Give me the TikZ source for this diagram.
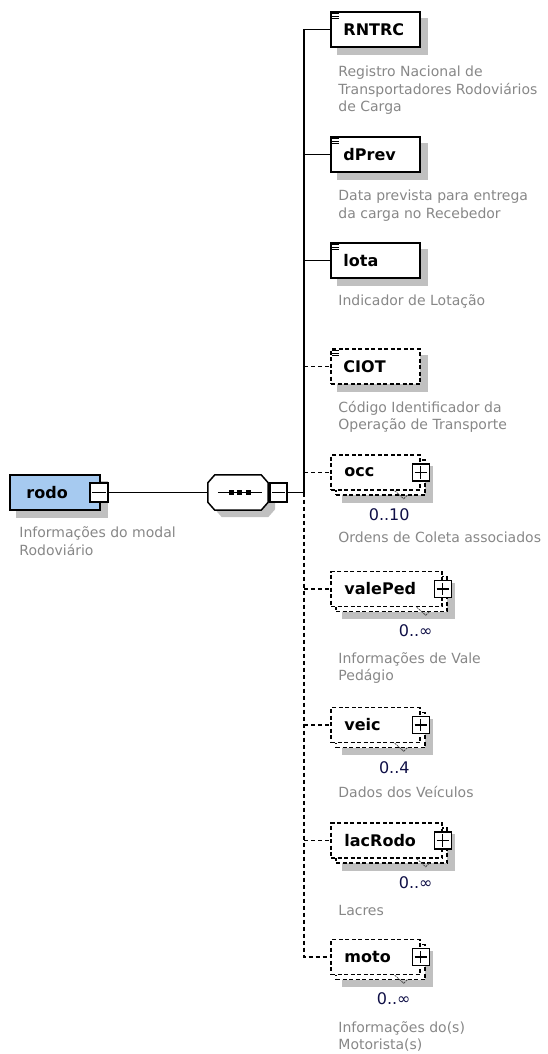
\documentclass[tikz,border=0pt]{standalone}
\usepackage{fontspec}
\setmainfont{DejaVu Sans}
\usetikzlibrary{positioning, backgrounds}

\definecolor{rodoblue}{RGB}{166,202,240}
\definecolor{shadowgray}{RGB}{192,192,192}
\definecolor{descgray}{RGB}{135,135,135}
\definecolor{multnavy}{RGB}{15,15,70}

\tikzset{
  box/.style={draw, line width=1.5pt, fill=white, minimum width=89pt, minimum height=35pt, inner sep=0pt},
  optbox/.style={box, dash pattern=on 4pt off 2.5pt},
  wide/.style={minimum width=111pt},
  pmbox/.style={draw, line width=1.2pt, fill=white, minimum width=17pt, minimum height=17pt, inner sep=0pt},
  elname/.style={font=\fontsize{16}{19}\selectfont\bfseries, inner sep=0pt},
  desc/.style={font=\fontsize{14}{17.5}\selectfont, text=descgray, align=left, inner sep=0pt},
  mult/.style={font=\fontsize{16}{19}\selectfont, text=multnavy, inner sep=0pt},
  conn/.style={line width=1.3pt},
  optconn/.style={conn, dash pattern=on 4pt off 3pt},
  multtick/.style={line width=0.8pt, draw=black!70, dash pattern=on 2pt off 1pt},
  dropshade/.style={fill=shadowgray, transform canvas={shift={(7pt,-7pt)}}}
}

\newcommand\minusmark[1]{\draw[line width=1.2pt] ([xshift=3pt]#1.west) -- ([xshift=-3pt]#1.east);}
\newcommand\plusmark[1]{\minusmark{#1}\draw[line width=1.2pt] ([yshift=-3pt]#1.north) -- ([yshift=3pt]#1.south);}
\newcommand\simpleicon[1]{\foreach \k in {2.5,5,7.5} \draw[line width=0.6pt] ([shift={(2pt,-\k pt)}]#1.north west) -- ++(7,0);}
\newcommand\octpath[1]{([xshift=7pt]#1.north west) -- ([xshift=-7pt]#1.north east) -- ([yshift=-8pt]#1.north east) -- ([yshift=8pt]#1.south east) -- ([xshift=-7pt]#1.south east) -- ([xshift=7pt]#1.south west) -- ([yshift=8pt]#1.south west) -- ([yshift=-8pt]#1.north west) -- cycle}

\begin{document}
\begin{tikzpicture}[x=1pt, y=-1pt]
\useasboundingbox (0,0) rectangle (548,1054);

% root element
\node[box, fill=rodoblue, minimum width=90pt] (rodo) at (55,492.5) {};
\node[elname, right=17pt of rodo.west] (rodo-n) {rodo};
\node[pmbox, minimum width=18pt, minimum height=19pt] (rodo-pm) at (99,492.5) {};
\minusmark{rodo-pm}
\node[desc, below right=16pt and 10pt of rodo.south west] (rodo-d) {Informações do modal\\Rodoviário};

% sequence
\node[minimum width=60pt, minimum height=35pt, inner sep=0pt] (seq) at (238,492.5) {};
\draw[line width=1.5pt, fill=white] \octpath{seq};
\draw[conn] ([xshift=10pt]seq.west) -- ([xshift=-6pt]seq.east);
\foreach \dx in {-7,1.5,10} \fill ([xshift=\dx pt]seq.center) +(-2.5,-2.5) rectangle +(2.5,2.5);
\node[pmbox, minimum height=19pt] (seq-pm) at (278.5,492.5) {};
\minusmark{seq-pm}
\coordinate (spine) at (304,492.5);
\draw[conn] (rodo-pm.east) -- (seq.west);
\draw[conn] (seq-pm.east) -- (spine);

% RNTRC
\node[box] (rntrc) at (375.5,29.5) {};
\node[elname, right=13pt of rntrc.west] (rntrc-n) {RNTRC};
\simpleicon{rntrc}
\node[desc, below right=18pt and 8pt of rntrc.south west] (rntrc-d) {Registro Nacional de\\Transportadores Rodoviários\\de Carga};

% dPrev
\node[box] (dprev) at (375.5,154.5) {};
\node[elname, right=13pt of dprev.west] (dprev-n) {dPrev};
\simpleicon{dprev}
\node[desc, below right=17pt and 8pt of dprev.south west] (dprev-d) {Data prevista para entrega\\da carga no Recebedor};

% lota
\node[box] (lota) at (375.5,260.5) {};
\node[elname, right=13pt of lota.west] (lota-n) {lota};
\simpleicon{lota}
\node[desc, below right=16pt and 8pt of lota.south west] (lota-d) {Indicador de Lotação};

% CIOT
\node[optbox] (ciot) at (375.5,366.5) {};
\node[elname, right=13pt of ciot.west] (ciot-n) {CIOT};
\simpleicon{ciot}
\node[desc, below right=16pt and 8pt of ciot.south west] (ciot-d) {Código Identificador da\\Operação de Transporte};

% occ
\node[optbox] (occ-b) at (380.5,477.5) {};
\node[optbox] (occ) at (375.5,472.5) {};
\node[elname, right=14pt of occ.west] (occ-n) {occ};
\node[pmbox] (occ-pm) at (occ.east) {};
\plusmark{occ-pm}
\draw[multtick] ([xshift=-26pt]occ.south east) -- ++(9,8) -- ++(4,-4);
\node[mult, below left=18pt and 11pt of occ.south east] (occ-m) {0..10};
\node[desc, below right=41pt and 8pt of occ.south west] (occ-d) {Ordens de Coleta associados};

% valePed
\node[optbox, wide] (valeped-b) at (391.5,594) {};
\node[optbox, wide] (valeped) at (386.5,589) {};
\node[elname, right=14pt of valeped.west] (valeped-n) {valePed};
\node[pmbox] (valeped-pm) at (valeped.east) {};
\plusmark{valeped-pm}
\draw[multtick] ([xshift=-26pt]valeped.south east) -- ++(9,8) -- ++(4,-4);
\node[mult, below left=17pt and 10pt of valeped.south east] (valeped-m) {0..∞};
\node[desc, below right=45pt and 8pt of valeped.south west] (valeped-d) {Informações de Vale\\Pedágio};

% veic
\node[optbox] (veic-b) at (380.5,730) {};
\node[optbox] (veic) at (375.5,725) {};
\node[elname, right=14pt of veic.west] (veic-n) {veic};
\node[pmbox] (veic-pm) at (veic.east) {};
\plusmark{veic-pm}
\draw[multtick] ([xshift=-26pt]veic.south east) -- ++(9,8) -- ++(4,-4);
\node[mult, below left=18pt and 11pt of veic.south east] (veic-m) {0..4};
\node[desc, below right=43pt and 8pt of veic.south west] (veic-d) {Dados dos Veículos};

% lacRodo
\node[optbox, wide] (lacrodo-b) at (391.5,845.5) {};
\node[optbox, wide] (lacrodo) at (386.5,840.5) {};
\node[elname, right=14pt of lacrodo.west] (lacrodo-n) {lacRodo};
\node[pmbox] (lacrodo-pm) at (lacrodo.east) {};
\plusmark{lacrodo-pm}
\draw[multtick] ([xshift=-26pt]lacrodo.south east) -- ++(9,8) -- ++(4,-4);
\node[mult, below left=18pt and 10pt of lacrodo.south east] (lacrodo-m) {0..∞};
\node[desc, below right=46pt and 8pt of lacrodo.south west] (lacrodo-d) {Lacres};

% moto
\node[optbox] (moto-b) at (380.5,962) {};
\node[optbox] (moto) at (375.5,957) {};
\node[elname, right=14pt of moto.west] (moto-n) {moto};
\node[pmbox] (moto-pm) at (moto.east) {};
\plusmark{moto-pm}
\draw[multtick] ([xshift=-26pt]moto.south east) -- ++(9,8) -- ++(4,-4);
\node[mult, below left=17pt and 10pt of moto.south east] (moto-m) {0..∞};
\node[desc, below right=46pt and 8pt of moto.south west] (moto-d) {Informações do(s)\\Motorista(s)};

% connectors
\draw[conn] (spine) |- (rntrc.west);
\draw[conn] (spine |- dprev.west) -- (dprev.west);
\draw[conn] (spine |- lota.west) -- (lota.west);
\draw[optconn] (spine |- ciot.west) -- (ciot.west);
\draw[optconn] (spine |- occ.west) -- (occ.west);
\draw[optconn] (spine |- valeped.west) -- (valeped.west);
\draw[optconn] (spine |- veic.west) -- (veic.west);
\draw[optconn] (spine |- lacrodo.west) -- (lacrodo.west);
\draw[optconn] (spine) |- (moto.west);

% shadows
\begin{scope}[on background layer]
\fill[dropshade] (rodo.south west) rectangle (rodo.north east);
\fill[dropshade] \octpath{seq};
\foreach \n in {rntrc,dprev,lota,ciot,occ-b,valeped-b,veic-b,lacrodo-b,moto-b}
  \fill[dropshade] (\n.south west) rectangle (\n.north east);
\end{scope}
\end{tikzpicture}
\end{document}
